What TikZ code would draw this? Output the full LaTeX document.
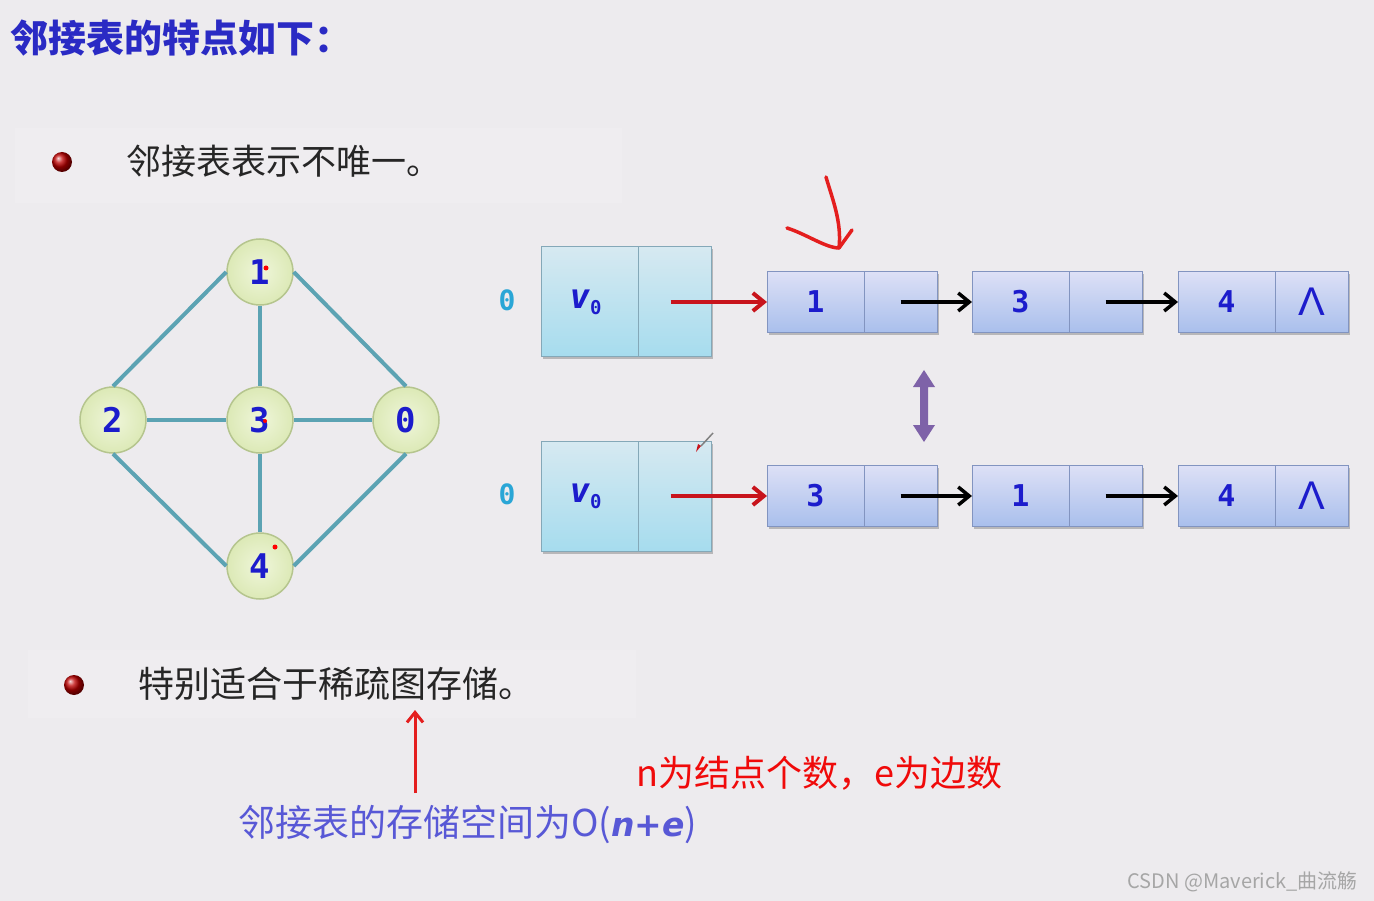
\documentclass[tikz,border=0pt]{standalone}
\usepackage{fontspec}
\setmainfont{Noto Sans CJK SC}
\newfontfamily\monofont{DejaVu Sans Mono}
\newfontfamily\symfont{DejaVu Sans}
\newfontfamily\nilfont{Liberation Sans}
\usepackage{tikz}
\usetikzlibrary{positioning,arrows.meta,shadows}

\definecolor{bgcol}{HTML}{EDEBEE}
\definecolor{titleblue}{HTML}{2A2AC4}
\definecolor{numblue}{HTML}{1C1CCC}
\definecolor{zerocyan}{HTML}{2AA6D6}
\definecolor{bodytext}{HTML}{262626}
\definecolor{spaceblue}{HTML}{5858D6}
\definecolor{notered}{HTML}{F00A0A}
\definecolor{handred}{HTML}{E41E1E}
\definecolor{arrowred}{HTML}{C8141C}
\definecolor{edgecol}{HTML}{5CA3B3}
\definecolor{vertline}{HTML}{B5C58E}
\definecolor{vertin}{HTML}{EFF6DA}
\definecolor{vertout}{HTML}{DCE9B6}
\definecolor{headline}{HTML}{84A8B8}
\definecolor{headtop}{HTML}{D6E9F1}
\definecolor{headbot}{HTML}{A6DCEE}
\definecolor{listline}{HTML}{8294C0}
\definecolor{listtop}{HTML}{DDE0F6}
\definecolor{listbot}{HTML}{A9BFEC}
\definecolor{swapcol}{HTML}{7E62A8}
\definecolor{markgray}{HTML}{A6A6A6}

\tikzset{
  textnote/.style={anchor=west, inner sep=0pt},
  vertex/.style={circle, draw=vertline, line width=1.5pt, inner color=vertin, outer color=vertout,
    minimum size=66pt, inner sep=0pt, text=numblue, font=\fontsize{34}{34}\selectfont\monofont\bfseries},
  edge/.style={draw=edgecol, line width=4pt},
  cellshadow/.style={drop shadow={shadow xshift=1.5pt, shadow yshift=-2.5pt, fill=black, opacity=0.22}},
  headcell/.style={rectangle, draw=headline, line width=1pt, top color=headtop, bottom color=headbot,
    minimum height=110pt, inner sep=0pt, outer sep=0pt, cellshadow, text=numblue},
  listcell/.style={rectangle, draw=listline, line width=1pt, top color=listtop, bottom color=listbot,
    minimum height=61pt, inner sep=0pt, outer sep=0pt, cellshadow, text=numblue,
    font=\fontsize{30}{30}\selectfont\monofont\bfseries},
  vcell/.style={minimum width=97pt},
  pcell/.style={minimum width=73pt},
  nextarrow/.style={-{Straight Barb[length=11pt,width=18pt]}, line width=3.5pt, black},
  headarrow/.style={-{Straight Barb[length=11pt,width=18pt]}, line width=4pt, arrowred},
  zerolab/.style={text=zerocyan, font=\fontsize{28}{28}\selectfont\monofont\bfseries},
  bullet/.style={circle, inner sep=0pt, minimum size=20pt, ball color=red!75!black},
  hand/.style={draw=handred, line width=3.5pt, line cap=round, line join=round},
}

\newcommand{\vzero}{\hspace*{-8pt}{\fontsize{34}{34}\selectfont\monofont\bfseries\itshape v}\raisebox{-6pt}{\fontsize{19}{19}\selectfont\monofont\bfseries 0}}
\newcommand{\nilmark}{{\fontsize{40}{40}\selectfont\nilfont\mdseries Λ}}

\begin{document}
\begin{tikzpicture}[x=1pt,y=-1pt]

\fill[bgcol] (0,0) rectangle (1374,901);
\useasboundingbox (0,0) rectangle (1374,901);

\fill[white, opacity=0.15] (15,128) rectangle (622,203);
\fill[white, opacity=0.15] (28,650) rectangle (636,718);

\node[textnote, text=titleblue, font=\fontsize{38}{38}\selectfont\bfseries] (title) at (10,38) {邻接表的特点如下：};

\node[bullet] (b1) at (62,162) {};
\node[textnote, text=bodytext, font=\fontsize{35}{35}\selectfont] (pt1) at (126,161) {邻接表表示不唯一。};

\node[vertex] (v1) at (260,272) {1};
\node[vertex] (v2) at (113,420) {2};
\node[vertex] (v3) at (260,420) {3};
\node[vertex] (v0) at (406,420) {0};
\node[vertex] (v4) at (260,566) {4};

\draw[edge] (v1.west) -- (v2.north);
\draw[edge] (v1.east) -- (v0.north);
\draw[edge] (v1) -- (v3);
\draw[edge] (v2) -- (v3);
\draw[edge] (v3) -- (v0);
\draw[edge] (v3) -- (v4);
\draw[edge] (v2.south) -- (v4.west);
\draw[edge] (v0.south) -- (v4.east);

\fill[red] (266,268) circle (2.5pt);
\fill[red] (265,421) circle (2pt);
\fill[red] (275,547) circle (2.5pt);

\node[zerolab] (z1) at (507,300) {0};
\node[headcell, vcell] (h1v) at (589.5,302) {\vzero};
\node[headcell, pcell, right=0pt of h1v] (h1p) {};
\node[listcell, vcell, right=56pt of h1p] (a1v) {1};
\node[listcell, pcell, right=0pt of a1v] (a1p) {};
\node[listcell, vcell, right=35pt of a1p] (b1v) {3};
\node[listcell, pcell, right=0pt of b1v] (b1p) {};
\node[listcell, vcell, right=36pt of b1p] (c1v) {4};
\node[listcell, pcell, right=0pt of c1v] (c1p) {\nilmark};

\draw[headarrow] ([xshift=-4pt]h1p.center) -- (a1v.west);
\draw[nextarrow] (a1p.center) -- (b1v.west);
\draw[nextarrow] (b1p.center) -- (c1v.west);

\node[zerolab] (z2) at (507,494) {0};
\node[headcell, vcell] (h2v) at (589.5,496) {\vzero};
\node[headcell, pcell, right=0pt of h2v] (h2p) {};
\node[listcell, vcell, right=56pt of h2p] (a2v) {3};
\node[listcell, pcell, right=0pt of a2v] (a2p) {};
\node[listcell, vcell, right=35pt of a2p] (b2v) {1};
\node[listcell, pcell, right=0pt of b2v] (b2p) {};
\node[listcell, vcell, right=36pt of b2p] (c2v) {4};
\node[listcell, pcell, right=0pt of c2v] (c2p) {\nilmark};

\draw[headarrow] ([xshift=-4pt]h2p.center) -- (a2v.west);
\draw[nextarrow] (a2p.center) -- (b2v.west);
\draw[nextarrow] (b2p.center) -- (c2v.west);

\fill[swapcol] (924,370) -- (935,387) -- (928,387) -- (928,425) -- (935,425) -- (924,442)
  -- (913,425) -- (920,425) -- (920,387) -- (913,387) -- cycle;

\draw[hand] (826,177) .. controls (832,198) and (842,222) .. (839,248);
\draw[hand] (787,228) .. controls (806,234) and (826,248) .. (839,248) -- (852,230);

\draw[gray, line width=1.5pt] (713,433) -- (701,446);
\fill[arrowred] (701,446) -- (696,452) -- (698,444) -- cycle;

\node[bullet] (b2) at (74,685) {};
\node[textnote, text=bodytext, font=\fontsize{36}{36}\selectfont] (pt2) at (138,684) {特别适合于稀疏图存储。};

\coordinate (upfrom) at (415,793);
\coordinate (upto) at (415,710);
\draw[-{Straight Barb[length=10pt,width=16pt]}, line width=3pt, handred] (upfrom) -- (upto);

\node[textnote, text=spaceblue, font=\fontsize{37}{37}\selectfont] (space) at (238,824)
  {邻接表的存储空间为O({\fontsize{33}{33}\selectfont\symfont\bfseries\itshape n+e})};

\node[textnote, text=notered, font=\fontsize{36}{36}\selectfont] (note) at (636,773) {n为结点个数，e为边数};

\node[anchor=east, inner sep=0pt, text=markgray, font=\fontsize{20}{20}\selectfont] (mark) at (1358,882) {CSDN @Maverick\_曲流觞};

\end{tikzpicture}
\end{document}
